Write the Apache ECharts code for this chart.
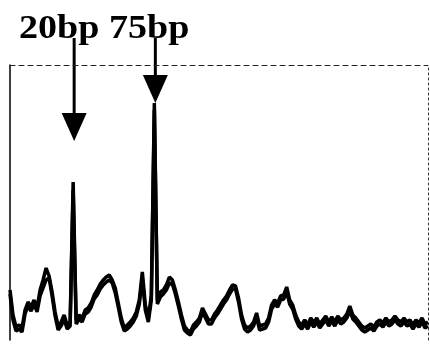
<!DOCTYPE html>
<html>
<head>
<meta charset="utf-8">
<script src="https://cdn.jsdelivr.net/npm/echarts@6/dist/echarts.min.js"></script>
<style>
html,body{margin:0;padding:0;background:#fff;}
#c{width:430px;height:344px;}
</style>
</head>
<body>
<div id="c"></div>
<script>
// Fluorescence traces (two overlaid runs), one sample per scan step
var traceA = [50,25,13,15,12,30,38,33,40,32,50,60,72,64,48,28,14,18,25,15,
  18,158,20,25,22,30,32,37,45,50,56,60,63,65,60,52,37,22,12,15,
  18,22,28,40,68,35,22,45,237,40,48,50,55,63,60,50,38,25,14,10,
  8,15,18,22,32,26,20,20,26,30,35,40,44,50,55,54,42,25,15,12,
  14,18,27,14,15,16,22,35,40,37,44,45,53,40,35,25,18,15,20,15,
  22,17,22,16,20,24,18,23,18,24,20,22,26,34,25,22,18,14,12,14,
  16,13,18,20,17,22,18,20,24,20,18,22,18,20,15,20,17,22,16,18];
var traceB = [46,20,9,11,8,26,34,29,36,28,44,52,60,62,44,24,10,14,21,11,
  14,150,16,21,18,26,28,33,41,45,51,55,58,60,57,47,33,18,9,11,
  14,18,24,36,62,30,18,40,230,36,43,46,50,57,56,46,34,21,10,7,
  5,11,14,18,28,22,16,16,22,26,31,36,40,46,51,51,38,21,11,8,
  10,14,23,10,11,12,18,31,36,33,40,41,48,36,31,21,14,11,16,11,
  18,13,18,12,16,20,14,19,14,20,16,18,22,29,21,18,14,10,8,10,
  12,9,14,16,13,18,14,16,20,16,14,18,14,16,11,16,13,18,12,14];
// Peak annotations: label and sample index of the marked peak
var peakLabels = ['20bp', '75bp'];
var peakIndex = [21, 48];
var titleText = '20bp 75bp';

var categories = traceA.map(function (v, i) { return i; });

var chart = echarts.init(document.getElementById('c'), null, {renderer: 'canvas'});
chart.setOption({
  animation: false,
  backgroundColor: '#fff',
  grid: {left: 10, right: 2, top: 65, bottom: 4},
  xAxis: [
    {type: 'category', data: categories, boundaryGap: false, position: 'bottom',
     axisLine: {show: false, onZero: false}, axisTick: {show: false}, axisLabel: {show: false}, splitLine: {show: false}},
    {type: 'category', data: categories, boundaryGap: false, position: 'top',
     axisLine: {show: true, onZero: false, lineStyle: {color: '#222', width: 1, type: [5, 4]}},
     axisTick: {show: false}, axisLabel: {show: false}, splitLine: {show: false}}
  ],
  yAxis: [
    {type: 'value', min: 0, max: 275, position: 'left',
     axisLine: {show: true, onZero: false, lineStyle: {color: '#000', width: 1.5}},
     axisTick: {show: false}, axisLabel: {show: false}, splitLine: {show: false}},
    {type: 'value', min: 0, max: 275, position: 'right',
     axisLine: {show: true, onZero: false, lineStyle: {color: '#333', width: 1, type: [2, 3]}},
     axisTick: {show: false}, axisLabel: {show: false}, splitLine: {show: false}}
  ],
  series: [
    {type: 'line', data: traceA, symbol: 'none', xAxisIndex: 0, yAxisIndex: 0,
     lineStyle: {color: '#000', width: 3.5}},
    {type: 'line', data: traceB, symbol: 'none', xAxisIndex: 0, yAxisIndex: 0,
     lineStyle: {color: '#000', width: 3.5}}
  ]
});

var arrowHeads = [[113, 141], [75, 103]];
var graphics = [{
  type: 'text', x: 19, y: 12, scaleX: 1.12,
  style: {text: titleText, font: 'bold 34px "Liberation Serif", "Times New Roman", serif', fill: '#000'}
}];
peakIndex.forEach(function (idx, j) {
  var px = chart.convertToPixel({seriesIndex: 0}, [idx, 0])[0] + 1;
  var top = arrowHeads[j][0], tip = arrowHeads[j][1];
  graphics.push({type: 'line', shape: {x1: px, y1: 38, x2: px, y2: top + 2},
    style: {stroke: '#000', lineWidth: 3}});
  graphics.push({type: 'polygon', shape: {points: [[px - 12.5, top], [px + 12.5, top], [px, tip]]},
    style: {fill: '#000'}});
});
chart.setOption({graphic: graphics});
</script>
</body>
</html>
